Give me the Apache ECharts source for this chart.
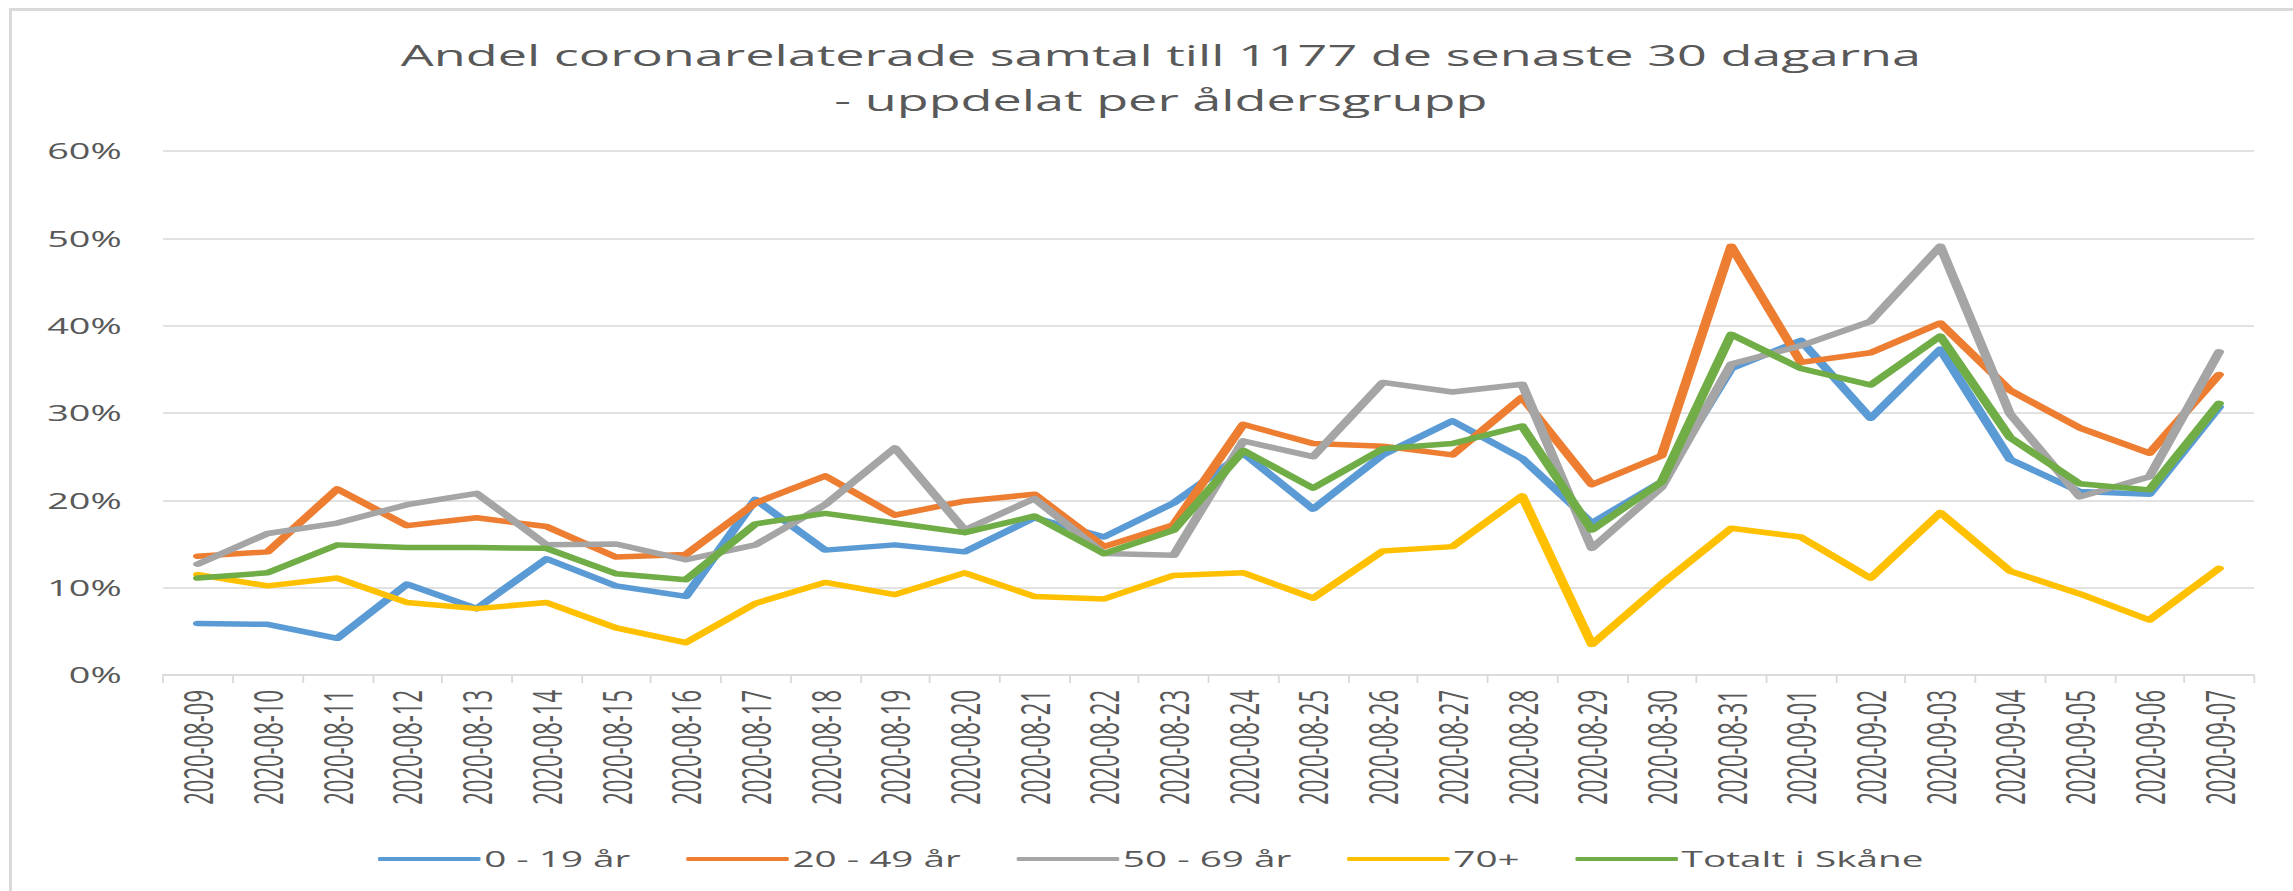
<!DOCTYPE html>
<html>
<head>
<meta charset="utf-8">
<script src="https://cdn.jsdelivr.net/npm/echarts@6/dist/echarts.min.js"></script>
<style>
  html, body { margin: 0; padding: 0; background: #fff; overflow: hidden; }
  #frame {
    position: absolute; left: 9px; top: 8px; right: -20px; bottom: -20px;
    border: 3px solid #d9d9d9;
  }
  /* the source picture is stretched sideways, so the chart is drawn narrow and widened */
  #chart {
    position: absolute; left: 0; top: 0;
    width: 1274px; height: 891px;
    transform: scaleX(1.79984);
    transform-origin: 0 0;
  }
</style>
</head>
<body>
<div id="frame"></div>
<div id="chart"></div>
<script>
const categories = [
  '2020-08-09', '2020-08-10', '2020-08-11', '2020-08-12', '2020-08-13', '2020-08-14',
  '2020-08-15', '2020-08-16', '2020-08-17', '2020-08-18', '2020-08-19', '2020-08-20',
  '2020-08-21', '2020-08-22', '2020-08-23', '2020-08-24', '2020-08-25', '2020-08-26',
  '2020-08-27', '2020-08-28', '2020-08-29', '2020-08-30', '2020-08-31', '2020-09-01',
  '2020-09-02', '2020-09-03', '2020-09-04', '2020-09-05', '2020-09-06', '2020-09-07'
]

// andel i procent
const age0to19 = [5.9, 5.8, 4.2, 10.4, 7.6, 13.3, 10.2, 9.0, 20.1, 14.3, 14.9, 14.1, 18.0, 15.8, 19.7,
  25.4, 19.0, 25.2, 29.1, 24.8, 17.4, 22.1, 35.1, 38.3, 29.4, 37.3, 24.7, 21.0, 20.7, 30.7]
const age20to49 = [13.6, 14.1, 21.3, 17.1, 18.0, 17.0, 13.5, 13.8, 19.7, 22.8, 18.3, 19.9, 20.7, 14.7, 17.2,
  28.7, 26.5, 26.2, 25.2, 31.8, 21.8, 25.1, 49.1, 35.8, 36.9, 40.3, 32.6, 28.3, 25.4, 34.4]
const age50to69 = [12.7, 16.2, 17.4, 19.5, 20.8, 14.9, 15.0, 13.2, 14.9, 19.5, 26.0, 16.6, 20.2, 13.9, 13.7,
  26.8, 25.0, 33.5, 32.4, 33.3, 14.5, 21.5, 35.6, 37.7, 40.5, 49.1, 29.9, 20.4, 22.7, 37.0]
const age70plus = [11.5, 10.2, 11.1, 8.3, 7.6, 8.3, 5.4, 3.7, 8.2, 10.6, 9.2, 11.7, 9.0, 8.7, 11.4,
  11.7, 8.8, 14.2, 14.7, 20.5, 3.5, 10.4, 16.8, 15.8, 11.1, 18.6, 11.9, 9.3, 6.3, 12.2]
const totalSkane = [11.1, 11.7, 14.9, 14.6, 14.6, 14.5, 11.6, 10.9, 17.3, 18.5, 17.4, 16.3, 18.2, 13.9, 16.6,
  25.7, 21.4, 25.9, 26.5, 28.5, 16.6, 22.1, 39.0, 35.1, 33.2, 38.8, 27.2, 21.9, 21.2, 31.1]

const seriesNames = ['0 - 19 år', '20 - 49 år', '50 - 69 år', '70+', 'Totalt i Skåne']
const colors = ['#5b9bd5', '#ed7d31', '#a5a5a5', '#ffc000', '#70ad47']

const font = "'Open Sans', 'Noto Sans', sans-serif"
const textColor = '#595959'

const chart = echarts.init(document.getElementById('chart'), null, { renderer: 'svg' })

function lineSeries(name, data, color) {
  return {
    name,
    type: 'line',
    data,
    symbol: 'none',
    color,
    itemStyle: { color },
    lineStyle: { width: 5.5, color, cap: 'round', join: 'round' },
    animation: false
  }
}

chart.setOption({
  title: {
    text: 'Andel coronarelaterade samtal till 1177 de senaste 30 dagarna\n- uppdelat per åldersgrupp',
    left: 645,
    top: 32,
    padding: 0,
    textAlign: 'center',
    textStyle: {
      fontFamily: font,
      fontSize: 29,
      fontWeight: 'normal',
      lineHeight: 45,
      color: textColor
    }
  },
  legend: {
    data: seriesNames,
    icon: 'roundRect',
    left: 205,
    top: 843,
    itemWidth: 57,
    itemHeight: 4,
    itemGap: 31,
    textStyle: { fontFamily: font, fontSize: 21.5, color: textColor, padding: [0, 0, 0, -3] }
  },
  grid: {
    left: 90.6,
    right: 21.7,
    top: 151,
    bottom: 216,
    containLabel: false
  },
  xAxis: {
    type: 'category',
    data: categories,
    boundaryGap: true,
    axisLine: { lineStyle: { color: '#d9d9d9', width: 1.5 } },
    axisTick: { show: true, length: 8, lineStyle: { color: '#d9d9d9', width: 1 } },
    axisLabel: {
      rotate: 90,
      interval: 0,
      margin: 15,
      fontFamily: font,
      fontSize: 22,
      color: textColor
    }
  },
  yAxis: {
    type: 'value',
    min: 0,
    max: 60,
    interval: 10,
    axisLine: { show: false },
    axisTick: { show: false },
    splitLine: { lineStyle: { color: '#d9d9d9', width: 1.5 } },
    axisLabel: {
      formatter: '{value}%',
      margin: 23,
      fontFamily: font,
      fontSize: 21,
      color: textColor
    }
  },
  series: [
    lineSeries(seriesNames[0], age0to19, colors[0]),
    lineSeries(seriesNames[1], age20to49, colors[1]),
    lineSeries(seriesNames[2], age50to69, colors[2]),
    lineSeries(seriesNames[3], age70plus, colors[3]),
    lineSeries(seriesNames[4], totalSkane, colors[4])
  ]
})
</script>
</body>
</html>
